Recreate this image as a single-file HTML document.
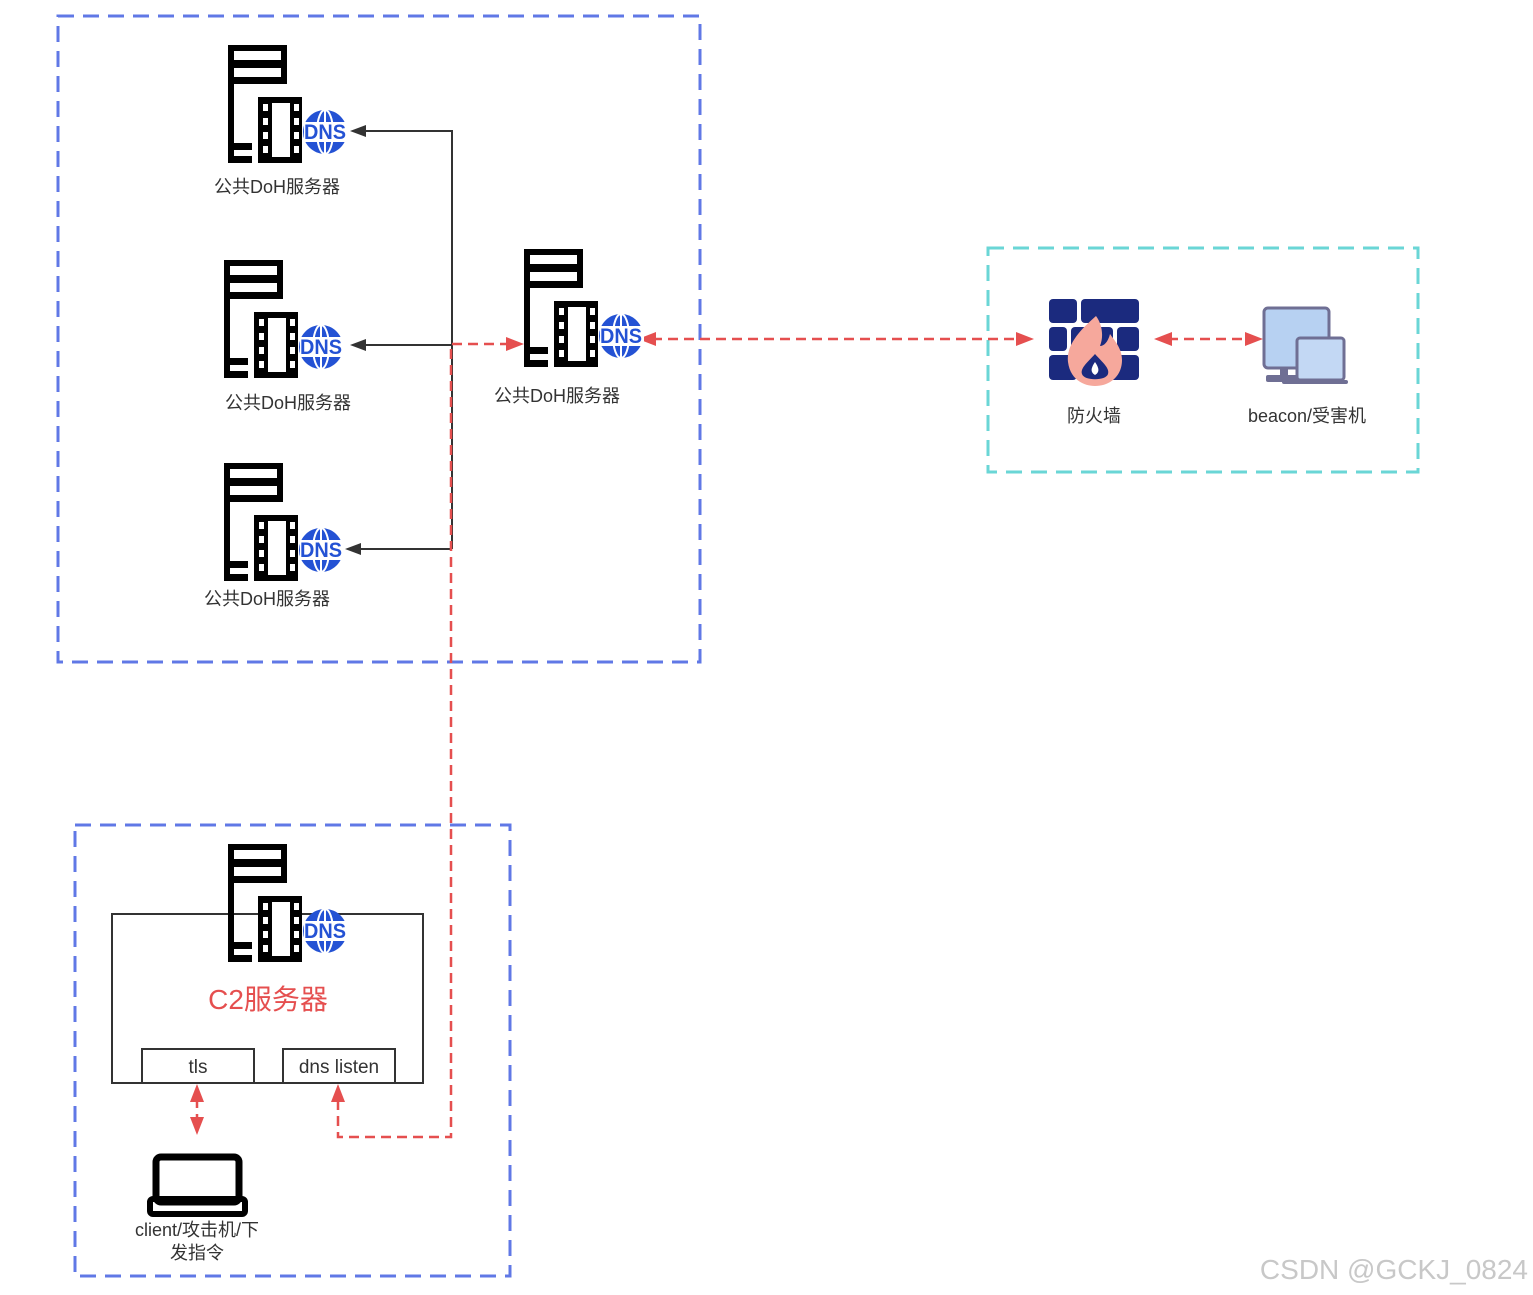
<!DOCTYPE html>
<html><head><meta charset="utf-8"><style>
html,body{margin:0;padding:0;background:#fff;}
svg{display:block}
text{font-family:"Liberation Sans","Noto Sans CJK SC",sans-serif;}
</style></head><body>
<svg width="1533" height="1295" viewBox="0 0 1533 1295" xmlns="http://www.w3.org/2000/svg">
<defs>
<g id="srv">
  <rect x="0" y="1" width="59" height="39" fill="#000"/>
  <rect x="6" y="7" width="47" height="9" fill="#fff"/>
  <rect x="6" y="24" width="47" height="9" fill="#fff"/>
  <rect x="0" y="40" width="6" height="79" fill="#000"/>
  <rect x="0" y="99" width="24" height="20" fill="#000"/>
  <rect x="6" y="106" width="18" height="6" fill="#fff"/>
  <rect x="30" y="53" width="44" height="66" fill="#000"/>
  <rect x="44" y="59" width="18" height="54" fill="#fff"/>
  <rect x="35" y="60" width="5" height="7" fill="#fff"/><rect x="35" y="74" width="5" height="7" fill="#fff"/><rect x="35" y="88" width="5" height="7" fill="#fff"/><rect x="35" y="102" width="5" height="7" fill="#fff"/>
  <rect x="66" y="60" width="5" height="7" fill="#fff"/><rect x="66" y="74" width="5" height="7" fill="#fff"/><rect x="66" y="88" width="5" height="7" fill="#fff"/><rect x="66" y="102" width="5" height="7" fill="#fff"/>
  <circle cx="97" cy="88" r="22" fill="#2452d4"/>
  <ellipse cx="97" cy="88" rx="8" ry="22" fill="none" stroke="#fff" stroke-width="2"/>
  <line x1="97" y1="66" x2="97" y2="110" stroke="#fff" stroke-width="2"/>
  <rect x="76" y="78" width="44" height="20" fill="#fff"/>
</g>
</defs>
<rect x="58" y="16" width="642" height="646" fill="none" stroke="#6078e6" stroke-width="3" stroke-dasharray="16 9"/>
<rect x="988" y="248" width="430" height="224" fill="none" stroke="#6ad6d6" stroke-width="3" stroke-dasharray="16 9"/>
<rect x="75" y="825" width="435" height="451" fill="none" stroke="#6078e6" stroke-width="3" stroke-dasharray="16 9"/>
<g stroke="#333" stroke-width="2" fill="none">
<polyline points="452,549 452,131 362,131"/>
<line x1="452" y1="345" x2="362" y2="345"/>
<line x1="452" y1="549" x2="357" y2="549"/>
</g>
<g fill="#333">
<polygon points="350,131 366,125 366,137"/>
<polygon points="350,345 366,339 366,351"/>
<polygon points="345,549 361,543 361,555"/>
</g>
<g stroke="#e54f4f" stroke-width="2.5" fill="none" stroke-dasharray="10 6">
<polyline points="338,1100 338,1137 451,1137 451,344 510,344"/>
<line x1="652" y1="339" x2="1020" y2="339"/>
<line x1="1168" y1="339" x2="1250" y2="339"/>
<line x1="197" y1="1098" x2="197" y2="1122"/>
</g>
<g fill="#e54f4f">
<polygon points="524,344 506,337 506,351"/>
<polygon points="638,339 656,332 656,346"/>
<polygon points="1034,339 1016,332 1016,346"/>
<polygon points="1154,339 1172,332 1172,346"/>
<polygon points="1263,339 1245,332 1245,346"/>
<polygon points="338,1084 331,1102 345,1102"/>
<polygon points="197,1084 190,1102 204,1102"/>
<polygon points="197,1135 190,1117 204,1117"/>
</g>
<g transform="translate(228,44)"><use href="#srv"/><text x="97" y="95" font-size="21" font-weight="bold" fill="#2452d4" text-anchor="middle" textLength="42" lengthAdjust="spacingAndGlyphs">DNS</text></g>
<g transform="translate(224,259)"><use href="#srv"/><text x="97" y="95" font-size="21" font-weight="bold" fill="#2452d4" text-anchor="middle" textLength="42" lengthAdjust="spacingAndGlyphs">DNS</text></g>
<g transform="translate(224,462)"><use href="#srv"/><text x="97" y="95" font-size="21" font-weight="bold" fill="#2452d4" text-anchor="middle" textLength="42" lengthAdjust="spacingAndGlyphs">DNS</text></g>
<g transform="translate(524,248)"><use href="#srv"/><text x="97" y="95" font-size="21" font-weight="bold" fill="#2452d4" text-anchor="middle" textLength="42" lengthAdjust="spacingAndGlyphs">DNS</text></g>
<g font-size="18" fill="#333" text-anchor="middle">
<text x="277" y="193">公共DoH服务器</text>
<text x="288" y="409">公共DoH服务器</text>
<text x="267" y="605">公共DoH服务器</text>
<text x="557" y="402">公共DoH服务器</text>
<text x="1094" y="422">防火墙</text>
<text x="1307" y="422">beacon/受害机</text>
<text x="197" y="1236">client/攻击机/下</text>
<text x="197" y="1259">发指令</text>
</g>
<rect x="112" y="914" width="311" height="169" fill="#fff" stroke="#333" stroke-width="2"/>
<g transform="translate(228,843)"><use href="#srv"/><text x="97" y="95" font-size="21" font-weight="bold" fill="#2452d4" text-anchor="middle" textLength="42" lengthAdjust="spacingAndGlyphs">DNS</text></g>
<text x="268" y="1009" font-size="28" fill="#e54f4f" text-anchor="middle">C2服务器</text>
<rect x="142" y="1049" width="112" height="34" fill="#fff" stroke="#333" stroke-width="2"/>
<rect x="283" y="1049" width="112" height="34" fill="#fff" stroke="#333" stroke-width="2"/>
<text x="198" y="1073" font-size="19" fill="#333" text-anchor="middle">tls</text>
<text x="339" y="1073" font-size="19" fill="#333" text-anchor="middle">dns listen</text>
<rect x="156" y="1157" width="83" height="45" rx="5" fill="none" stroke="#000" stroke-width="7"/>
<rect x="150" y="1199" width="95" height="15" rx="3" fill="none" stroke="#000" stroke-width="6"/>
<g fill="#1b2a7e">
<rect x="1049" y="299" width="28" height="24" rx="4"/><rect x="1081" y="299" width="58" height="24" rx="4"/>
<rect x="1049" y="327" width="18" height="24" rx="4"/><rect x="1071" y="327" width="42" height="24" rx="4"/><rect x="1117" y="327" width="22" height="24" rx="4"/>
<rect x="1049" y="355" width="28" height="25" rx="4"/><rect x="1081" y="355" width="58" height="25" rx="4"/>
</g>
<path d="M1096,316 C1080,330 1066,345 1068,362 C1070,378 1082,386 1095,386 C1110,386 1122,376 1122,360 C1122,348 1114,340 1110,334 C1108,342 1104,346 1100,346 C1104,336 1102,324 1096,316 Z" fill="#f6a89c"/>
<path d="M1095,354 C1088,362 1080,368 1082,374 C1084,381 1106,381 1108,374 C1110,368 1102,362 1095,354Z" fill="#1b2a7e"/>
<path d="M1095,362 C1091,368 1090,372 1095,375 C1100,372 1099,368 1095,362Z" fill="#fff"/>
<rect x="1264" y="308" width="65" height="60" rx="4" fill="#b7d1f2" stroke="#6f6f94" stroke-width="3"/>
<rect x="1280" y="368" width="8" height="10" fill="#6f6f94"/>
<rect x="1266" y="375" width="40" height="7" rx="2" fill="#6f6f94"/>
<rect x="1297" y="338" width="47" height="42" rx="3" fill="#c3d8f4" stroke="#6f6f94" stroke-width="3"/>
<rect x="1282" y="380" width="66" height="4" rx="2" fill="#6f6f94"/>
<text x="1528" y="1279" font-size="28" fill="#c8c8c8" text-anchor="end">CSDN @GCKJ_0824</text>
</svg>
</body></html>
